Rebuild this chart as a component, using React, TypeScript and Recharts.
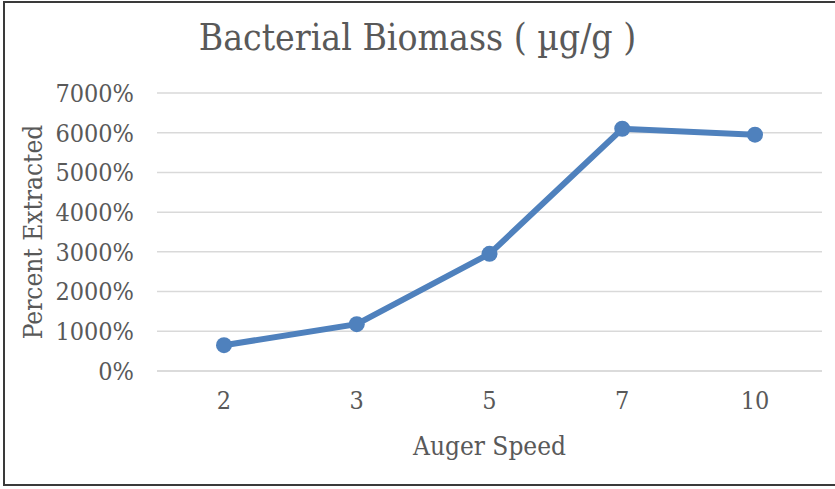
import { LineChart, Line, XAxis, YAxis, CartesianGrid } from "recharts";

const speeds = ["2", "3", "5", "7", "10"];
const percentExtracted = [650, 1180, 2950, 6100, 5950];
const yTicks = [0, 1000, 2000, 3000, 4000, 5000, 6000, 7000];

const data = speeds.map((s, i) => ({ speed: s, pct: percentExtracted[i] }));

const FONT = "'DejaVu Serif Condensed', 'DejaVu Serif', serif";
const TEXT = "#595959";

export default function App() {
  return (
    <div
      style={{
        position: "fixed",
        left: 0,
        top: 0,
        width: 835,
        height: 489,
        background: "#fff",
        fontFamily: FONT,
      }}
    >
      <div
        style={{
          position: "absolute",
          left: 3,
          top: 1,
          width: 840,
          height: 485,
          border: "2px solid #3a3a3a",
          boxSizing: "border-box",
        }}
      />
      <div
        style={{
          position: "absolute",
          top: 14,
          left: 0,
          width: 835,
          textAlign: "center",
          fontSize: 37,
          color: TEXT,
          lineHeight: "48px",
        }}
      >
        Bacterial Biomass ( µg/g )
      </div>
      <LineChart
        width={835}
        height={489}
        data={data}
        margin={{ top: 93, right: 13, bottom: 0, left: 0 }}
        style={{ position: "absolute", left: 0, top: 0 }}
      >
        <CartesianGrid vertical={false} stroke="#d9d9d9" strokeWidth={1.5} />
        <XAxis
          dataKey="speed"
          axisLine={{ stroke: "#d9d9d9", strokeWidth: 1.5 }}
          tickLine={false}
          padding={{ left: 67, right: 67 }}
          interval={0}
          tick={{ fill: TEXT, fontSize: 25, fontFamily: FONT }}
          dy={12}
          height={118}
          label={{
            value: "Auger Speed",
            position: "insideTop",
            offset: 66,
            fill: TEXT,
            fontSize: 26,
            fontFamily: FONT,
          }}
        />
        <YAxis
          domain={[0, 7000]}
          ticks={yTicks}
          interval={0}
          width={157}
          axisLine={false}
          tickLine={false}
          tickFormatter={(v) => `${v}%`}
          tick={{ fill: TEXT, fontSize: 25, fontFamily: FONT }}
          dx={-15}
          label={{
            value: "Percent Extracted",
            angle: -90,
            position: "insideLeft",
            offset: 33,
            fill: TEXT,
            fontSize: 26,
            fontFamily: FONT,
            style: { textAnchor: "middle" },
          }}
        />
        <Line
          type="linear"
          dataKey="pct"
          stroke="#4f81bd"
          strokeWidth={6}
          dot={{ r: 8, fill: "#4f81bd", stroke: "#4f81bd", strokeWidth: 0 }}
          isAnimationActive={false}
        />
      </LineChart>
    </div>
  );
}
